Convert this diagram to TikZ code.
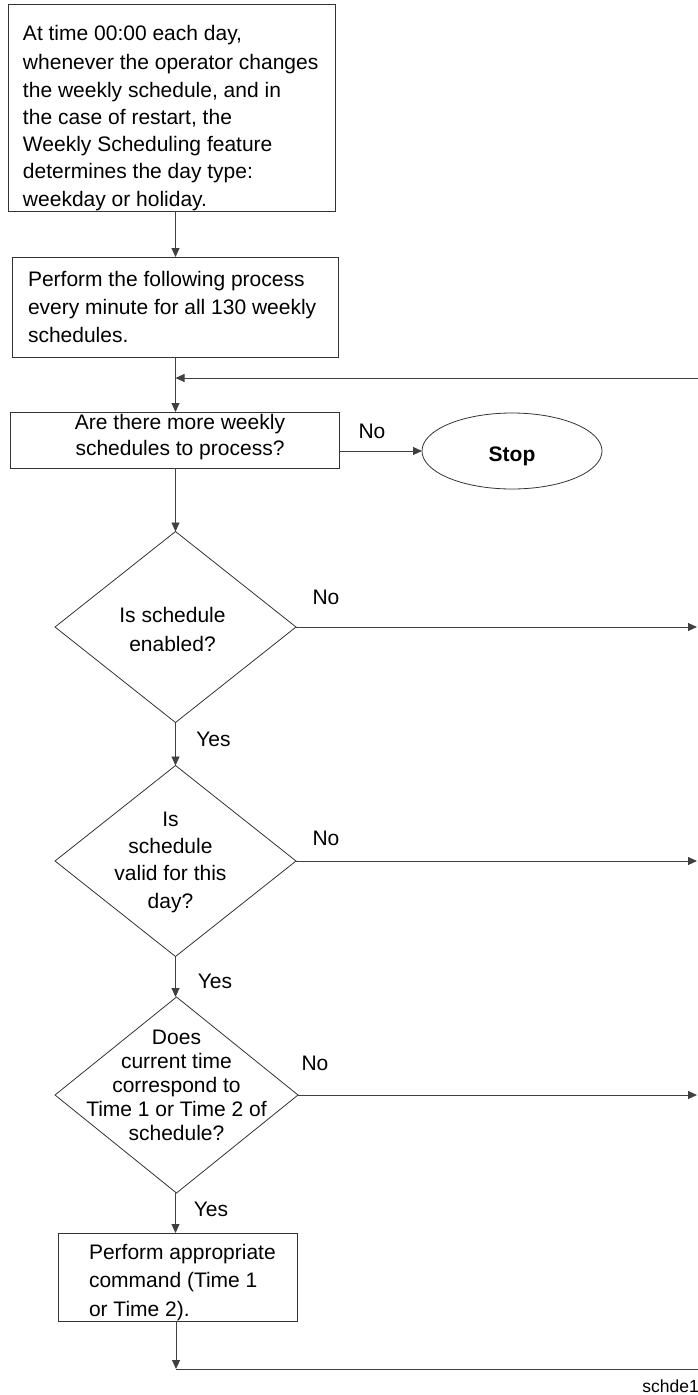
\documentclass[tikz,border=0pt]{standalone}
\usepackage{fontspec}
\setmainfont{Liberation Sans}
\usetikzlibrary{shapes.geometric,arrows.meta}
\begin{document}
\begin{tikzpicture}[x=1pt,y=1pt,
  boxshape/.style={draw=black!80,line width=0.8pt,rectangle,inner sep=0pt,outer sep=0pt},
  diashape/.style={draw=black!80,line width=0.8pt,diamond,inner sep=0pt,outer sep=0pt,minimum width=241pt,minimum height=191pt},
  ovalshape/.style={draw=black!80,line width=0.8pt,ellipse,inner sep=0pt,outer sep=0pt,minimum width=180pt,minimum height=76pt},
  txt/.style={inner sep=0pt,outer sep=0pt,font=\fontsize{21}{#1}\selectfont},
  lbl/.style={inner sep=0pt,outer sep=0pt,font=\fontsize{21}{25}\selectfont},
  conn/.style={draw=black!75,line width=0.9pt},
  arr/.style={conn,-{Triangle[length=9pt,width=8pt]}}
]
\useasboundingbox (0,0) rectangle (698,-1395);

% spine coordinate
\coordinate (sp) at (175.5,0);

% box 1
\node[boxshape,minimum width=327pt,minimum height=207pt] (b1) at (171.5,-107.5) {};
\node[txt=27.3,anchor=north west,align=left] (t1) at (23,-25.5)
  {At time 00:00 each day,\\[1.7pt]
   whenever the operator changes\\
   the weekly schedule, and in\\
   the case of restart, the\\
   Weekly Scheduling feature\\
   determines the day type:\\
   weekday or holiday.};

% box 2
\node[boxshape,minimum width=326pt,minimum height=100pt] (b2) at (175,-307) {};
\node[txt=28,anchor=north west,align=left] (t2) at (28,-271)
  {Perform the following process\\
   every minute for all 130 weekly\\
   schedules.};

% box 3
\node[boxshape,minimum width=329pt,minimum height=56pt] (b3) at (174.5,-440) {};
\node[txt=26,align=center] (t3) at (180,-437.5)
  {Are there more weekly\\ schedules to process?};

% stop
\node[ovalshape] (stop) at (512,-451) {};
\node[inner sep=0pt,outer sep=0pt,font=\fontsize{21}{25}\selectfont\bfseries] (tstop) at (512,-456) {Stop};

% diamonds
\node[diashape] (d1) at (175.5,-627) {};
\node[txt=29.6,align=center] (td1) at (172.5,-629.5) {Is schedule\\ enabled?};

\node[diashape] (d2) at (175.5,-861) {};
\node[txt=27.1,align=center] (td2) at (170.5,-862.3) {Is\\ schedule\\ valid for this\\ day?};

\node[diashape,minimum width=243pt,minimum height=196pt] (d3) at (176.5,-1095) {};
\node[txt=24.2,align=center] (td3) at (176.5,-1085.4)
  {Does\\ current time\\ correspond to\\ Time 1 or Time 2 of\\ schedule?};

% box 4
\node[boxshape,minimum width=239pt,minimum height=88pt] (b4) at (177.5,-1277) {};
\node[txt=28.5,anchor=north west,align=left] (t4) at (89,-1244)
  {Perform appropriate\\ command (Time 1\\ or Time 2).};

% labels
\node[lbl] (no0) at (372,-431) {No};
\node[lbl] (no1) at (326,-597) {No};
\node[lbl] (no2) at (326,-838) {No};
\node[lbl] (no3) at (315,-1063) {No};
\node[lbl] (y1) at (213.5,-739) {Yes};
\node[lbl] (y2) at (215,-981) {Yes};
\node[lbl] (y3) at (211,-1209) {Yes};
\node[inner sep=0pt,anchor=east,font=\fontsize{17.5}{20}\selectfont] (fig) at (699,-1386) {schde1};

% coordinates at the right edge
\coordinate (lp) at (698,-378);
\coordinate (r1) at (697,-627);
\coordinate (r2) at (697,-861);
\coordinate (r3) at (697,-1095);
\coordinate (bt) at (176,-1369);
\coordinate (be) at (698,-1369);

% connectors
\draw[arr] (b1.south -| sp) -- (b2.north -| sp);
\draw[arr] (b2.south -| sp) -- (b3.north -| sp);
\draw[arr] (lp) -- (lp -| sp);
\draw[arr] (b3.east |- stop) -- (stop.west);
\draw[arr] (b3.south -| sp) -- (d1.north);
\draw[arr] (d1.east) -- (r1);
\draw[arr] (d1.south) -- (d2.north);
\draw[arr] (d2.east) -- (r2);
\draw[arr] (d2.south) -- (d2.south |- d3.north);
\draw[arr] (d3.east) -- (r3);
\draw[arr] (d3.south -| sp) -- (b4.north -| sp);
\draw[arr] (b4.south -| bt) -- (bt);
\draw[conn] (bt) -- (be);
\end{tikzpicture}
\end{document}
